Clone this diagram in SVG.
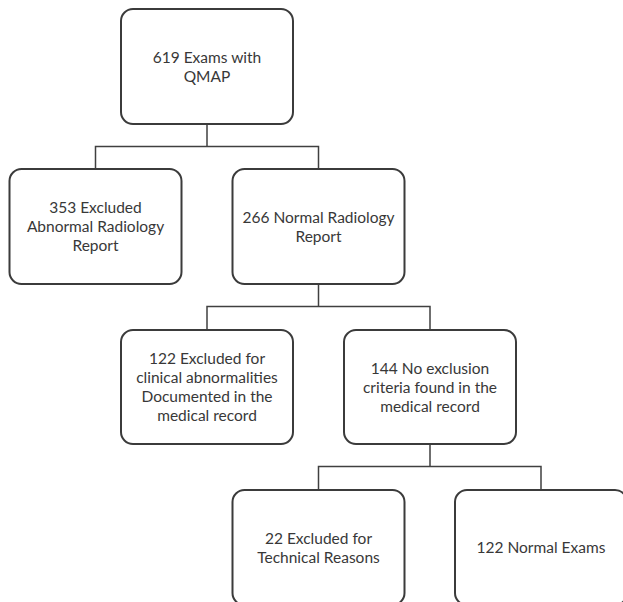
<svg xmlns="http://www.w3.org/2000/svg" width="623" height="602" viewBox="0 0 623 602">
<style>
.box{fill:#fff;stroke:#3b3b3b;stroke-width:2}
.lbl{font-family:Lato,"Open Sans","Liberation Sans",sans-serif;font-size:15.5px;fill:#383838;text-anchor:middle}
.con{fill:none;stroke:#404040;stroke-width:1.5}
</style>
<rect width="623" height="602" fill="#fff"/>
<g id="connectors">
<path class="con" d="M207 124V146.5M95.5 169V146.5H318.5V169"/>
<path class="con" d="M318.5 284V306.5M207 330V306.5H430V330"/>
<path class="con" d="M430 444V466.5M318.5 490V466.5H541V490"/>
</g>
<g id="n1"><rect class="box" x="121" y="9" width="172" height="115" rx="12"/>
<text class="lbl" x="207" y="62.5">619 Exams with</text><text class="lbl" x="207" y="81.5">QMAP</text></g>
<g id="n2"><rect class="box" x="9.5" y="169" width="172" height="115" rx="12"/>
<text class="lbl" x="95.5" y="213">353 Excluded</text><text class="lbl" x="95.5" y="232">Abnormal Radiology</text><text class="lbl" x="95.5" y="251">Report</text></g>
<g id="n3"><rect class="box" x="232.5" y="169" width="172" height="115" rx="12"/>
<text class="lbl" x="318.5" y="223">266 Normal Radiology</text><text class="lbl" x="318.5" y="242">Report</text></g>
<g id="n4"><rect class="box" x="121" y="330" width="172" height="114" rx="12"/>
<text class="lbl" x="207" y="364">122 Excluded for</text><text class="lbl" x="207" y="383">clinical abnormalities</text><text class="lbl" x="207" y="402">Documented in the</text><text class="lbl" x="207" y="421">medical record</text></g>
<g id="n5"><rect class="box" x="344" y="330" width="172" height="114" rx="12"/>
<text class="lbl" x="430" y="373.5">144 No exclusion</text><text class="lbl" x="430" y="392.5">criteria found in the</text><text class="lbl" x="430" y="411.5">medical record</text></g>
<g id="n6"><rect class="box" x="232.5" y="490" width="172" height="115" rx="12"/>
<text class="lbl" x="318.5" y="543.5">22 Excluded for</text><text class="lbl" x="318.5" y="562.5">Technical Reasons</text></g>
<g id="n7"><rect class="box" x="455" y="490" width="172" height="115" rx="12"/>
<text class="lbl" x="541" y="553">122 Normal Exams</text></g>
</svg>
